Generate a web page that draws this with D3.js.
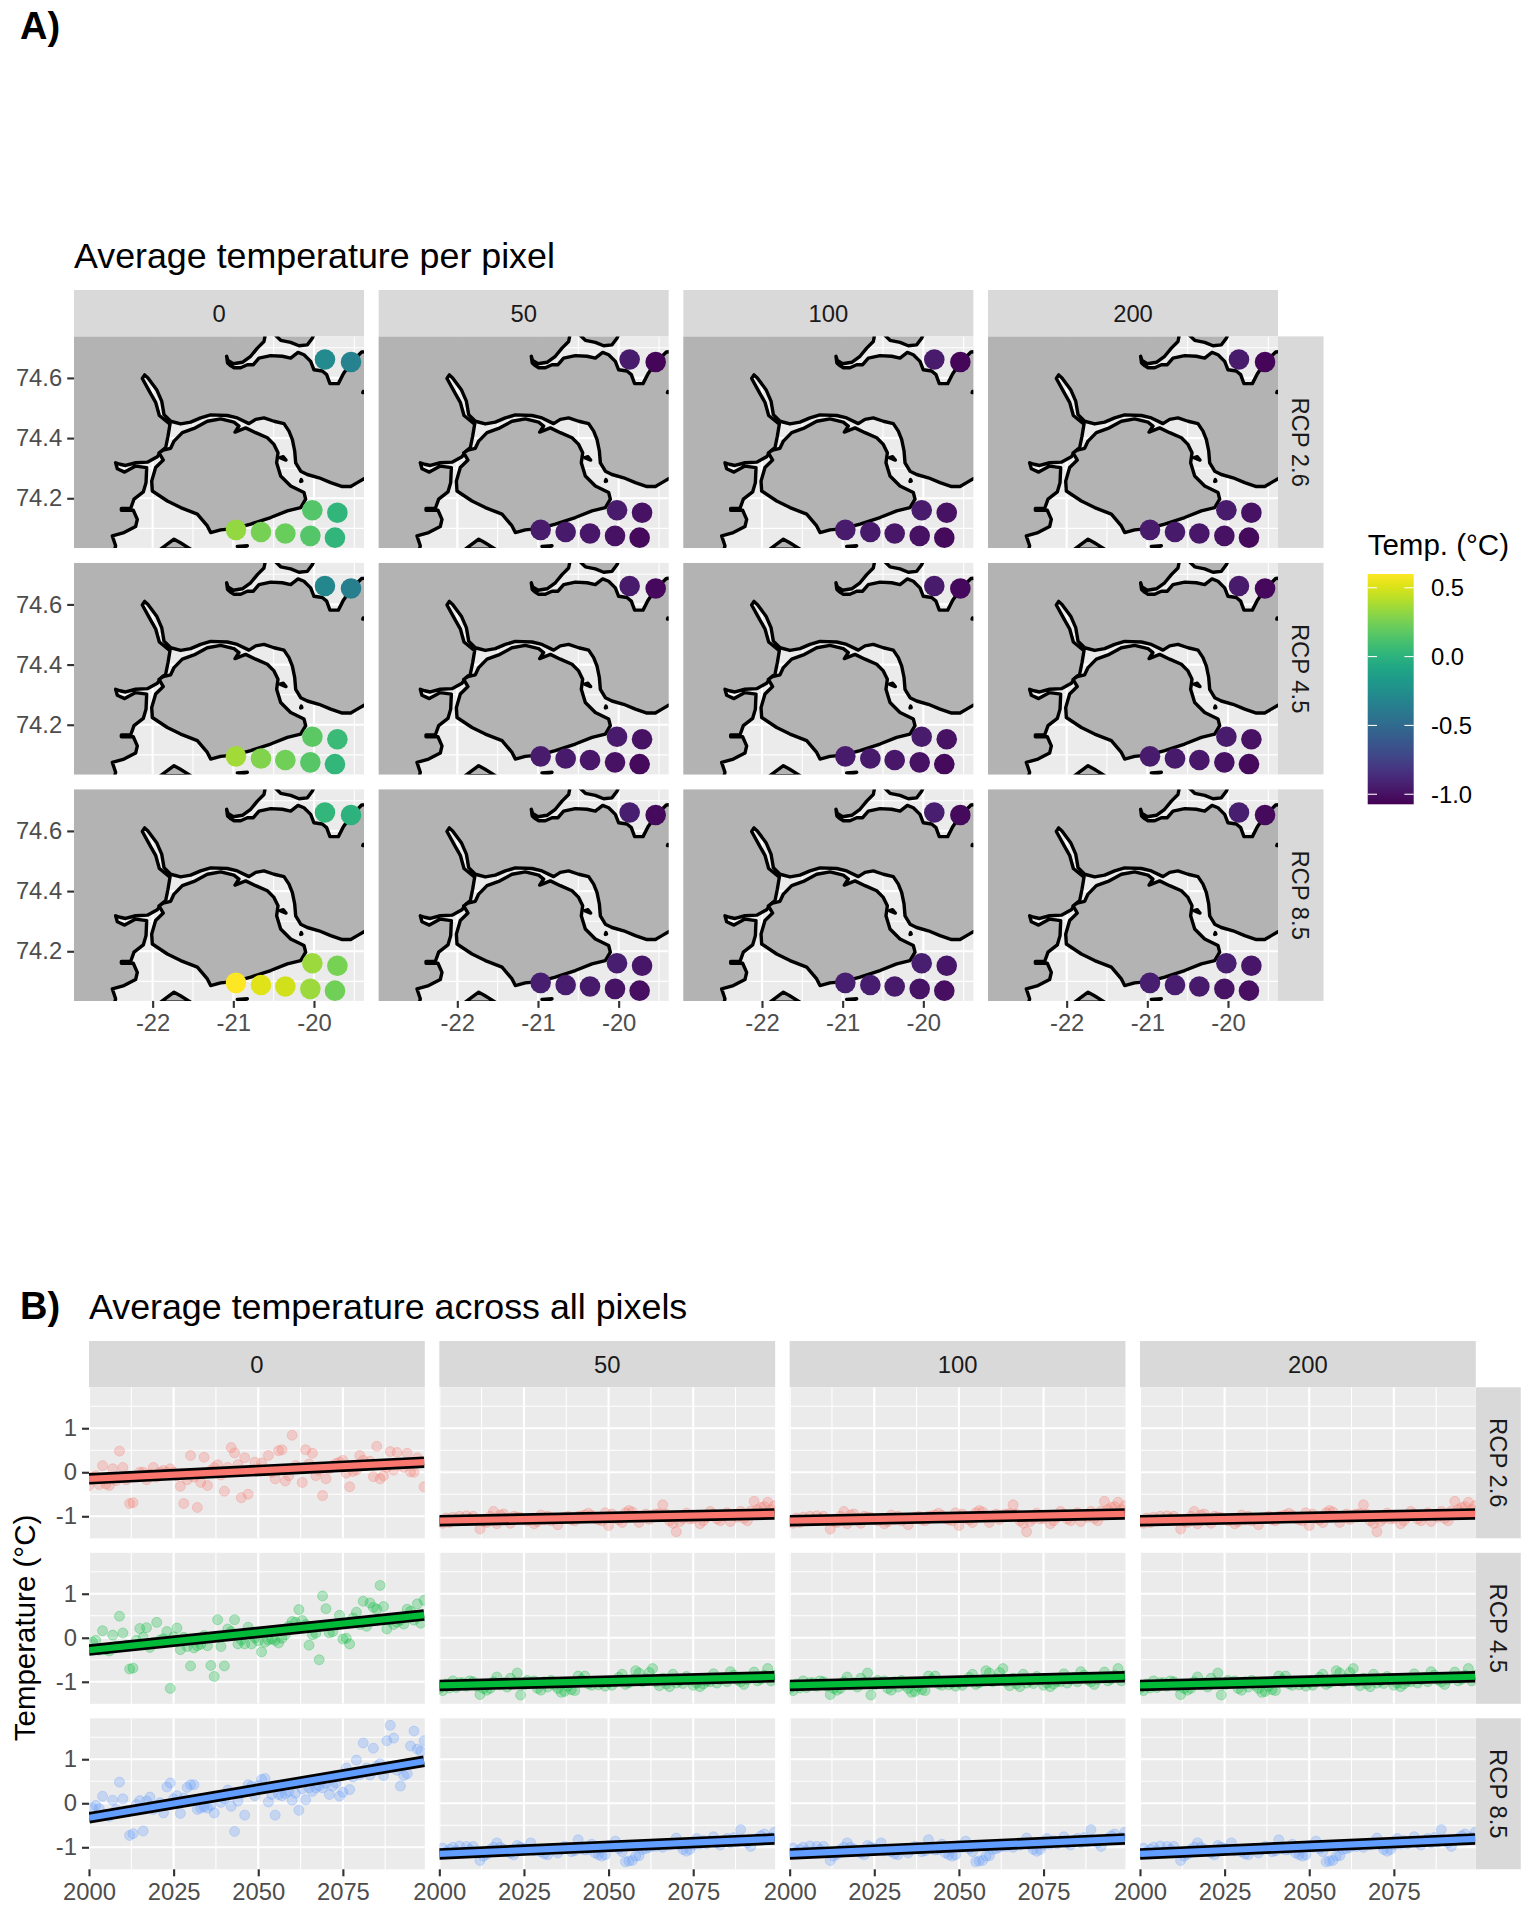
<!DOCTYPE html>
<html><head><meta charset="utf-8">
<script src="https://cdn.jsdelivr.net/npm/d3@7/dist/d3.min.js"></script>
<style>html,body{margin:0;padding:0;background:#fff}svg{display:block}text{font-family:"Liberation Sans",Arial,sans-serif}</style>
</head><body><svg id="c" width="1536" height="1920"></svg>
<script>
// ---------- data ----------
const depths = ["0","50","100","200"];
const scenarios = ["RCP 2.6","RCP 4.5","RCP 8.5"];
const lonTicks = [-22,-21,-20];
const lonMinor = [-22.5,-21.5,-20.5,-19.5];
const latTicks = [74.2,74.4,74.6];
const latMinor = [74.1,74.3,74.5,74.7];
const yearTicks = [2000,2025,2050,2075];
const yearMinor = [2012.5,2037.5,2062.5,2087.5];
const tempTicks = [-1,0,1];
const tempMinor = [-0.5,0.5,1.5];
const legendTicks = [0.5,0,-0.5,-1];
const pixelLon = [-19.864,-19.541,-20.02,-19.71,-20.967,-20.657,-20.355,-20.045,-19.74];
const pixelLat = [74.661,74.653,74.160,74.152,74.095,74.088,74.083,74.075,74.069];
const pixelSurface26 = [-.28,-.33,.15,.02,.33,.25,.22,.15,.02];
const pixelSurface45 = [-.3,-.36,.18,.06,.37,.28,.24,.16,.03];
const pixelSurface85 = [.03,0,.35,.26,.6,.52,.48,.35,.24];
const pixelDeep26 = [-.95,-1.05,-.95,-1,-.95,-.96,-.97,-1,-1.03];
const pixelDeep45 = [-.95,-1.04,-.95,-1,-.95,-.96,-.97,-1,-1.03];
const pixelDeep85 = [-.93,-1.03,-.93,-.98,-.93,-.94,-.96,-.99,-1.01];

const landMain = [[-20.599,74.749],[-20.62,74.721],[-20.702,74.699],[-20.785,74.672],[-20.888,74.652],[-21,74.647],[-21.066,74.658],[-21.083,74.672],[-21.072,74.65],[-21.03,74.64],[-20.992,74.634],[-20.909,74.634],[-20.826,74.644],[-20.752,74.644],[-20.682,74.666],[-20.537,74.674],[-20.392,74.672],[-20.289,74.666],[-20.198,74.685],[-20.124,74.677],[-20.041,74.655],[-20,74.627],[-19.897,74.623],[-19.843,74.611],[-19.802,74.581],[-19.698,74.581],[-19.636,74.614],[-19.533,74.653],[-19.409,74.686],[-19.318,74.688],[-19.318,74.263],[-19.38,74.265],[-19.463,74.252],[-19.545,74.239],[-19.649,74.239],[-19.793,74.252],[-19.938,74.268],[-20.083,74.279],[-20.165,74.29],[-20.227,74.318],[-20.239,74.357],[-20.268,74.395],[-20.31,74.423],[-20.372,74.448],[-20.496,74.456],[-20.62,74.467],[-20.723,74.462],[-20.806,74.448],[-20.95,74.467],[-21.074,74.475],[-21.281,74.477],[-21.405,74.467],[-21.529,74.453],[-21.653,74.447],[-21.777,74.456],[-21.859,74.478],[-21.888,74.523],[-21.95,74.561],[-22.058,74.6],[-22.099,74.61],[-22.128,74.598],[-22.033,74.552],[-21.963,74.519],[-21.917,74.475],[-21.785,74.446],[-21.81,74.406],[-21.839,74.368],[-21.892,74.357],[-21.942,74.338],[-22.066,74.32],[-22.211,74.318],[-22.335,74.309],[-22.405,74.313],[-22.459,74.318],[-22.438,74.298],[-22.347,74.287],[-22.211,74.307],[-22.074,74.302],[-22.082,74.252],[-22.116,74.221],[-22.231,74.197],[-22.273,74.166],[-22.388,74.166],[-22.388,74.16],[-22.24,74.16],[-22.19,74.13],[-22.211,74.106],[-22.355,74.086],[-22.5,74.075],[-22.459,74.042],[-22.479,74.02],[-23.1,74.02],[-23.1,74.749]];
const landIsland = [[-21.868,74.36],[-21.777,74.366],[-21.735,74.39],[-21.632,74.418],[-21.487,74.432],[-21.322,74.456],[-21.157,74.464],[-20.992,74.453],[-20.93,74.44],[-20.979,74.42],[-20.847,74.434],[-20.723,74.418],[-20.578,74.401],[-20.496,74.379],[-20.446,74.351],[-20.463,74.318],[-20.413,74.274],[-20.289,74.241],[-20.124,74.219],[-20.103,74.197],[-20.165,74.169],[-20.33,74.158],[-20.537,74.136],[-20.785,74.114],[-20.992,74.099],[-21.157,74.095],[-21.281,74.086],[-21.322,74.108],[-21.446,74.147],[-21.653,74.169],[-21.818,74.191],[-22.004,74.224],[-22.012,74.257],[-21.963,74.302],[-21.868,74.327],[-21.921,74.351]];
const landSouth = [[-21.901,74.031],[-21.735,74.064],[-21.661,74.053],[-21.529,74.031]];
const landNorth = [[-20.504,74.749],[-20.413,74.725],[-20.289,74.718],[-20.186,74.707],[-20.082,74.71],[-20.021,74.732],[-19.992,74.749]];
const islets = [[[-20.421,74.335],[-20.347,74.327],[-20.38,74.338]],[[-20.157,74.262],[-20.15,74.257],[-20.165,74.256]],[[-19.39,74.555],[-19.385,74.551],[-19.395,74.551]],[[-20.95,74.04],[-20.826,74.042],[-20.89,74.036]]];

const surfaceRed = [-.30,-.11,-.08,-.28,.15,-.27,-.30,.08,-.19,.48,.11,-.17,-.71,-.69,-.11,0,0,-.17,-.04,.11,-.11,0,.04,0,.08,0,-.08,-.32,-.71,-.17,.38,-.11,-.80,-.23,.34,-.30,.04,.11,.17,-.06,-.43,.11,.56,.44,.17,-.58,.33,-.50,.04,.23,.08,.21,.04,.38,0,-.15,.49,.51,-.20,-.08,.84,.15,.08,-.23,.51,.19,.43,-.08,.04,-.53,-.15,.08,.15,.20,.23,.27,-.02,-.33,.02,.05,.38,.27,.15,.25,-.10,.59,-.15,-.08,.11,.47,.05,.45,.19,.11,.43,.01,0,.33,.23,-.33];
const surfaceGreen = [-.28,-.1,-.06,-.28,.16,-.27,-.3,.06,-.19,.49,.11,-.17,-.71,-.69,-.06,.21,.01,.23,-.22,-.1,.35,-.05,-.02,.14,-1.15,.02,.22,-.27,.01,-.2,-.64,-.23,-.18,-.15,.05,-.18,-.63,-.88,.41,-.2,-.64,.2,.14,.41,-.14,-.05,-.14,.24,-.14,0,-.07,-.32,-.1,-.05,-.03,-.06,-.12,-.01,.07,.26,.37,.35,.64,.39,.3,-.17,.07,.1,-.5,.95,.66,.11,.14,.3,.51,-.03,-.01,-.14,.45,.58,.3,.83,.26,.79,.69,.65,1.19,.71,.2,.4,.3,.35,.4,.31,.65,.6,.4,.77,.33,.85];
const surfaceBlue = [-.3,-.1,-.05,-.12,.16,-.25,-.3,.07,-.14,.48,.1,-.17,-.73,-.69,-.03,.06,-.63,.05,.14,-.14,-.05,.01,-.22,.37,.46,.1,.17,-.23,.12,.36,.42,.42,-.14,-.11,-.08,-.11,-.05,-.22,.16,.02,.1,.3,-.07,-.64,.05,.22,-.27,.42,.39,.17,.4,.54,.56,.03,.2,-.27,.2,.17,.22,.27,.07,.23,-.16,.33,.08,.35,.27,.35,.4,.35,.45,.2,.39,.46,.16,.25,.8,.31,.6,.98,.65,1.37,.8,.64,1.25,.84,.9,.63,1.42,1.77,1.48,.75,.39,.63,.67,1.3,1.64,1.23,1.18,1.42];
const deepRed = [-1.12,-1.16,-1.04,-1.14,-1.02,-1.1,-1,-1.08,-.99,-1.05,-1,-1.07,-1.29,-1.12,-1.14,-1,-.89,-1.17,-.97,-.95,-1.05,-1.16,-1,-1.02,-1.03,-1.07,-1.1,-1.08,-1.17,-1.12,-.97,-1.08,-1,-1.1,-1.06,-1.19,-1.04,-1.03,-1,-1.08,-1.1,-1,-.99,-.97,-.93,-.98,-1.05,-1.08,-1.1,-.92,-1.21,-.95,-1.05,-1.08,-1.14,-.92,-.87,-.9,-1,-1.14,-1,-.95,-1.07,-.97,-.95,-.94,-.74,-.95,-1.1,-1.16,-1.35,-1.12,-1.05,-.93,-1.06,-1.05,-.98,-1.17,-1.1,-1.02,-.89,-.95,-1.06,-1.1,-1,-.92,-1.12,-.98,-1.02,-.89,-1.05,-1.1,-.88,-.66,-.85,-.8,-.78,-.68,-.85,-.76];
const deepGreen = [-1.15,-1.2,-1.05,-1.14,-.98,-1.13,-1.02,-1.02,-1.1,-.98,-1,-1.1,-1.29,-1.15,-1.19,-1.15,-1,-.89,-1.07,-1.02,-1.12,-.92,-1.02,-.8,-1.3,-1.07,-.97,-1.03,-.98,-1.15,-1.19,-1,-1.12,-.97,-1.08,-1.15,-1.24,-1.22,-1.1,-1.18,-1.2,-.87,-.95,-.87,-1.05,-1.08,-.99,-1.07,-1.03,-1.1,-1.02,-1.08,-1,-.9,-.83,-1.06,-1.02,-.95,-.75,-.8,-1,-.93,-.79,-.7,-1,-1.09,-.92,-1.05,-1.11,-.83,-1.03,-.98,-1.04,-.88,-.96,-1.08,-1.03,-1.11,-1.05,-.99,-1,-.82,-1.03,-.95,-.9,-1,-.77,-.85,-.96,-1,-1.06,-.95,-.9,-.78,-.98,-.94,-.85,-.7,-.98,-.85];
const deepBlue = [-1.15,-1.02,-1.1,-1.05,-1,-1.08,-.97,-1.1,-.98,-1.05,-.98,-1.12,-1.3,-1.2,-1.16,-1.05,-1,-.9,-1,-1.04,-1.08,-1.13,-1.17,-.96,-1,-1.03,-1.05,-.9,-1.08,-1.05,-1.1,-1.15,-1.17,-1.05,-1.03,-1.13,-1.05,-.98,-1,-1.1,-1.08,-.83,-1.03,-1.06,-1.05,-.93,-1.13,-1.17,-1.2,-1.17,-.96,-1,-.86,-1.03,-1.1,-1.33,-1.31,-1.3,-1.2,-1.19,-1.05,-1.03,-1,-.97,-.98,-.95,-1,-.93,-.95,-.92,-.79,-.95,-1.05,-1.09,-1.05,-.95,-.8,-.93,-.85,-.92,-.86,-.76,-.9,-.95,-.85,-.8,-.9,-.78,-.88,-.6,-.85,-.9,-.98,-.85,-.8,-.74,-.7,-.82,-.78,-.66];
const trendSurface = [[-.15,.23],[-.28,.515],[-.33,.955]];
const trendDeep = [[-1.1,-.947],[-1.083,-.886],[-1.15,-.81]];
const seriesColors = ["#F8766D","#00BA38","#619CFF"];
const years = d3.range(2000,2100);

// ---------- helpers ----------
const svg = d3.select("#c");
const defs = svg.append("defs");
const TICK_FONT = 23.8;
let clipN = 0;
function panel(x,y,w,h){
  const id = "clip"+(clipN++);
  defs.append("clipPath").attr("id",id).append("rect").attr("width",w).attr("height",h);
  const g = svg.append("g").attr("transform",`translate(${x},${y})`);
  g.append("rect").attr("width",w).attr("height",h).attr("fill","#ebebeb");
  return {g, inner:g.append("g").attr("clip-path",`url(#${id})`)};
}
function grid(g,xs,ys,w,h,xMaj,xMin,yMaj,yMin){
  g.selectAll(null).data(xMin).join("line").attr("x1",xs).attr("x2",xs).attr("y2",h).attr("stroke","#fff").attr("stroke-width",1.07);
  g.selectAll(null).data(yMin).join("line").attr("y1",ys).attr("y2",ys).attr("x2",w).attr("stroke","#fff").attr("stroke-width",1.07);
  g.selectAll(null).data(xMaj).join("line").attr("x1",xs).attr("x2",xs).attr("y2",h).attr("stroke","#fff").attr("stroke-width",2.13);
  g.selectAll(null).data(yMaj).join("line").attr("y1",ys).attr("y2",ys).attr("x2",w).attr("stroke","#fff").attr("stroke-width",2.13);
}
function styleAxis(a){
  a.select(".domain").remove();
  a.selectAll("line").attr("stroke","#333").attr("stroke-width",2.13);
  a.selectAll("text").attr("fill","#4d4d4d").attr("font-size",TICK_FONT).attr("font-family",'"Liberation Sans",Arial,sans-serif');
}
function stripTop(x,y,w,h,label){
  svg.append("rect").attr("x",x).attr("y",y).attr("width",w).attr("height",h).attr("fill","#d9d9d9");
  svg.append("text").attr("x",x+w/2).attr("y",y+h/2).attr("dy","0.36em").attr("text-anchor","middle").attr("font-size",TICK_FONT).attr("fill","#1a1a1a").text(label);
}
function stripRight(x,y,w,h,label){
  svg.append("rect").attr("x",x).attr("y",y).attr("width",w).attr("height",h).attr("fill","#d9d9d9");
  svg.append("text").attr("transform",`translate(${x+w/2},${y+h/2}) rotate(90)`).attr("dy","0.36em").attr("text-anchor","middle").attr("font-size",TICK_FONT).attr("fill","#1a1a1a").text(label);
}

// ---------- part A ----------
svg.append("text").attr("x",20).attr("y",38.5).attr("font-size",38).attr("font-weight","bold").text("A)");
svg.append("text").attr("x",74).attr("y",267.5).attr("font-size",35.8).text("Average temperature per pixel");
const A = {x0:74,dx:304.67,w:290,y0:336.4,dy:226.5,h:211.5,stripH:46.4,stripW:45.5};
const lonS = d3.scaleLinear([-22.975,-19.38],[0,A.w]);
const latS = d3.scaleLinear([74.738,74.035],[0,A.h]);
const legendDomain = [-1.073,0.6];
const tempColor = d3.scaleSequential(d3.interpolateViridis).domain(legendDomain);
const coast = d3.line().x(d=>lonS(d[0])).y(d=>latS(d[1])).curve(d3.curveLinearClosed);
const pixelRows = [[pixelSurface26,pixelDeep26],[pixelSurface45,pixelDeep45],[pixelSurface85,pixelDeep85]];
depths.forEach((dp,c)=>stripTop(A.x0+c*A.dx,A.y0-A.stripH,A.w,A.stripH,dp));
scenarios.forEach((sc,r)=>{
  stripRight(A.x0+3*A.dx+A.w,A.y0+r*A.dy,A.stripW,A.h,sc);
  depths.forEach((dp,c)=>{
    const px=A.x0+c*A.dx, py=A.y0+r*A.dy;
    const {g,inner}=panel(px,py,A.w,A.h);
    grid(inner,d=>lonS(d),d=>latS(d),A.w,A.h,lonTicks,lonMinor,latTicks,latMinor);
    [landMain,landIsland,landSouth,landNorth,...islets].forEach(poly=>{
      inner.append("path").attr("d",coast(poly)).attr("fill","#b3b3b3").attr("stroke","#000").attr("stroke-width",3.4).attr("stroke-linejoin","round");
    });
    const vals=pixelRows[r][c===0?0:1];
    inner.selectAll("circle").data(vals).join("circle")
      .attr("cx",(d,i)=>lonS(pixelLon[i])).attr("cy",(d,i)=>latS(pixelLat[i])).attr("r",10.3).attr("fill",d=>tempColor(d));
    if(c===0){
      const a=g.append("g").call(d3.axisLeft(latS).tickValues(latTicks).tickFormat(d3.format(".1f")).tickSize(6.8).tickPadding(5));
      styleAxis(a);
    }
    if(r===2){
      const a=g.append("g").attr("transform",`translate(0,${A.h})`).call(d3.axisBottom(lonS).tickValues(lonTicks).tickFormat(d=>d).tickSize(7).tickPadding(6));
      styleAxis(a);
      a.selectAll("text").text(d=>"-"+Math.abs(d));
    }
  });
});
// legend
const legX=1367.7, legW=46, legTop=574, legBot=804.3;
const legS=d3.scaleLinear(legendDomain,[legBot,legTop]);
svg.append("text").attr("x",legX).attr("y",555).attr("font-size",29.5).text("Temp. (°C)");
const grad=defs.append("linearGradient").attr("id","lg").attr("x1",0).attr("x2",0).attr("y1",1).attr("y2",0);
d3.range(0,1.0001,0.05).forEach(t=>grad.append("stop").attr("offset",t).attr("stop-color",d3.interpolateViridis(t)));
svg.append("rect").attr("x",legX).attr("y",legTop).attr("width",legW).attr("height",legBot-legTop).attr("fill","url(#lg)");
legendTicks.forEach(v=>{
  [[legX,legX+9.3],[legX+legW-9.3,legX+legW]].forEach(e=>svg.append("line").attr("x1",e[0]).attr("x2",e[1]).attr("y1",legS(v)).attr("y2",legS(v)).attr("stroke","#fff").attr("stroke-width",1.07));
  svg.append("text").attr("x",1431).attr("y",legS(v)).attr("dy","0.36em").attr("font-size",TICK_FONT).text(v===0?"0.0":d3.format(".1f")(v).replace("−","-"));
});

// ---------- part B ----------
svg.append("text").attr("x",20).attr("y",1319).attr("font-size",38).attr("font-weight","bold").text("B)");
svg.append("text").attr("x",89).attr("y",1319).attr("font-size",35.8).text("Average temperature across all pixels");
const B={x0:89,dx:350.33,w:335.8,y0:1387.3,dy:165.5,h:151,stripH:46.3,stripW:45};
const yrS=d3.scaleLinear([2000,2099.2],[0,B.w]);
const tS=d3.scaleLinear([1.93,-1.5],[0,B.h]);
const surfaceRows=[surfaceRed,surfaceGreen,surfaceBlue], deepRows=[deepRed,deepGreen,deepBlue];
depths.forEach((dp,c)=>stripTop(B.x0+c*B.dx,B.y0-B.stripH,B.w,B.stripH,dp));
scenarios.forEach((sc,r)=>{
  stripRight(B.x0+3*B.dx+B.w,B.y0+r*B.dy,B.stripW,B.h,sc);
  depths.forEach((dp,c)=>{
    const px=B.x0+c*B.dx, py=B.y0+r*B.dy;
    const {g,inner}=panel(px,py,B.w,B.h);
    grid(inner,d=>yrS(d),d=>tS(d),B.w,B.h,yearTicks,yearMinor,tempTicks,tempMinor);
    const vals=c===0?surfaceRows[r]:deepRows[r];
    const tr=c===0?trendSurface[r]:trendDeep[r];
    inner.selectAll("circle").data(vals).join("circle")
      .attr("cx",(d,i)=>yrS(years[i])).attr("cy",d=>tS(d)).attr("r",5)
      .attr("fill",seriesColors[r]).attr("fill-opacity",.27).attr("stroke",seriesColors[r]).attr("stroke-opacity",.27).attr("stroke-width",1);
    const ln=d3.line().x(d=>yrS(d[0])).y(d=>tS(d[1]));
    const seg=[[years[0],tr[0]],[years[99],tr[1]]];
    inner.append("path").attr("d",ln(seg)).attr("stroke","#000").attr("stroke-width",11.5).attr("fill","none");
    inner.append("path").attr("d",ln(seg)).attr("stroke",seriesColors[r]).attr("stroke-width",6.2).attr("fill","none");
    if(c===0){
      const a=g.append("g").call(d3.axisLeft(tS).tickValues(tempTicks).tickFormat(d=>d).tickSize(7).tickPadding(5));
      styleAxis(a);
      a.selectAll("text").text(d=>(d<0?"-":"")+Math.abs(d));
    }
    if(r===2){
      const a=g.append("g").attr("transform",`translate(0,${B.h})`).call(d3.axisBottom(yrS).tickValues(yearTicks).tickFormat(d3.format("d")).tickSize(7).tickPadding(6.5));
      styleAxis(a);
    }
  });
});
svg.append("text").attr("transform","translate(35,1628) rotate(-90)").attr("text-anchor","middle").attr("font-size",29.5).text("Temperature (°C)");
</script></body></html>
